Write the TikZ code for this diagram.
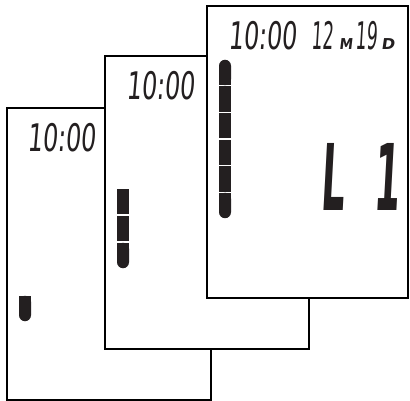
\documentclass[tikz,border=0pt]{standalone}
\usepackage{fontspec}
\newfontfamily\lcdfont[FakeSlant=0.12]{DejaVu Sans Condensed}
\definecolor{lcd}{HTML}{231F20}

\begin{document}
\begin{tikzpicture}[x=1pt,y=-1pt,
  panel/.style={draw=black,line width=2pt,fill=white,rectangle,inner sep=0pt,minimum height=292pt},
  clock/.style={font=\lcdfont\fontsize{38}{38}\selectfont,text=lcd,anchor=base west,inner sep=0pt,xscale=0.7},
  unit/.style={font=\lcdfont\bfseries\fontsize{15}{15}\selectfont,text=lcd,anchor=base west,inner sep=0pt},
  code/.style={font=\lcdfont\bfseries\fontsize{92}{92}\selectfont,text=lcd,inner sep=0pt,xscale=0.45},
  seg/.style={fill=lcd}]
  \useasboundingbox (0,0) rectangle (410,401);
  % three displays, back to front
  \node[panel,minimum width=204pt] (day) at (109,254) {};
  \node[panel,minimum width=204pt] (week) at (207,202.5) {};
  \node[panel,minimum width=201pt] (month) at (307.5,152) {};
  % clock read-outs
  \node[clock] (dayclock) at (27,152) {10:00};
  \node[clock] (weekclock) at (126,100) {10:00};
  \node[clock] (monthclock) at (228,50) {10:00};
  \node[clock,xscale=0.72] (mnum) at (311,50) {12};
  \node[unit] (munit) at (339,50) {M};
  \node[clock,xscale=0.72] (dnum) at (355,50) {19};
  \node[unit,xscale=1.2] (dunit) at (381,50) {D};
  % level code
  \node[code,anchor=base west] (lcdL) at (320,211) {L};
  \node[code,anchor=base east] (lcdOne) at (400,211) {1};
  % level bars
  \fill[seg,rounded corners=6pt] (19,295.75) rectangle (31,321.25);
  \fill[seg] (19,295.75) rectangle (31,308);
  \foreach \i in {0,1} \fill[seg] (117,188.75+27*\i) rectangle (129,214.25+27*\i);
  \fill[seg,rounded corners=6pt] (117,242.75) rectangle (129,268.25);
  \fill[seg] (117,242.75) rectangle (129,255);
  \fill[seg,rounded corners=6pt] (219,59.75) rectangle (231,85.25);
  \fill[seg] (219,72) rectangle (231,85.25);
  \foreach \i in {1,...,4} \fill[seg] (219,59.75+26.6*\i) rectangle (231,85.25+26.6*\i);
  \fill[seg,rounded corners=6pt] (219,192.75) rectangle (231,218.25);
  \fill[seg] (219,192.75) rectangle (231,205);
\end{tikzpicture}
\end{document}
